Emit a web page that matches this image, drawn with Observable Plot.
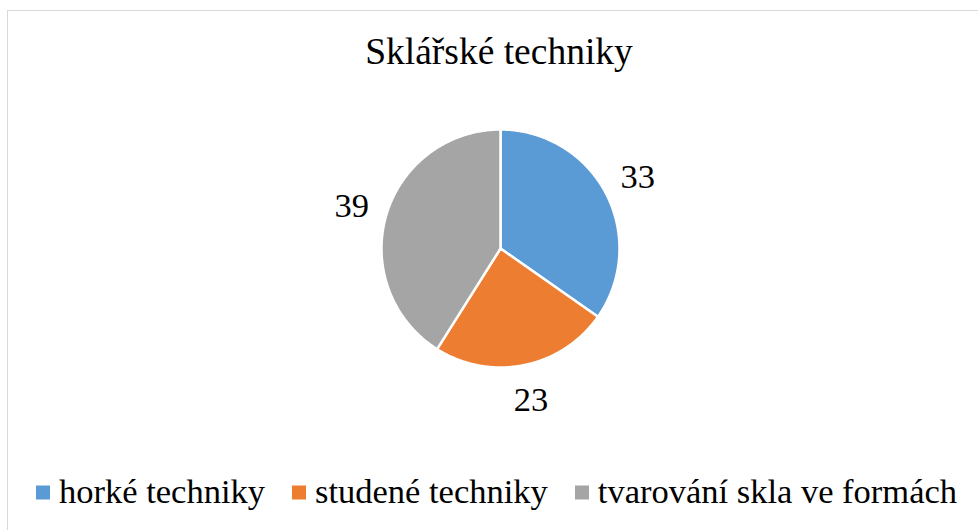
<!DOCTYPE html>
<html>
<head>
<meta charset="utf-8">
<script src="https://cdn.jsdelivr.net/npm/d3@7"></script>
<script src="https://cdn.jsdelivr.net/npm/@observablehq/plot@0.6"></script>
</head>
<body style="margin:0">
<div id="page"></div>
<script>
const titleText = "Sklářské techniky";
const categories = ["horké techniky", "studené techniky", "tvarování skla ve formách"];
const values = [33, 23, 39];
const colors = ["#5b9bd5", "#ed7d31", "#a5a5a5"];

const FAMILY = "Liberation Serif";
const FONT = `"${FAMILY}", monospace`;

const ctx = document.createElement("canvas").getContext("2d");
ctx.font = `30px "${FAMILY}", monospace`;
ctx.measureText(titleText);

function css(el, obj) { Object.assign(el.style, obj); return el; }

document.documentElement.style.overflow = "hidden";
document.body.style.background = "#fff";
const page = css(document.getElementById("page"), {
  position: "relative", width: "978px", height: "530px", overflow: "hidden", color: "#000"
});

const frame = css(document.createElement("div"), {
  position: "absolute", left: "7px", top: "10px", width: "1100px", height: "700px",
  border: "1.5px solid #d9d9d9", boxSizing: "border-box"
});
page.appendChild(frame);

const title = css(document.createElement("div"), {
  position: "absolute", left: "0px", width: "998px", top: "33px", textAlign: "center",
  fontFamily: FONT, fontSize: "37.5px", lineHeight: "37.5px", whiteSpace: "nowrap"
});
title.textContent = titleText;
page.appendChild(title);

const rows = categories.map((c, i) => ({cat: c, value: values[i]}));
const arcs = d3.pie().sort(null).value(d => d.value)(rows);

const pts = [];
for (const a of arcs) {
  const n = Math.max(8, Math.ceil((a.endAngle - a.startAngle) / 0.01));
  pts.push({cat: a.data.cat, x: 0, y: 0});
  for (let k = 0; k <= n; k++) {
    const t = a.startAngle + (a.endAngle - a.startAngle) * k / n;
    pts.push({cat: a.data.cat, x: Math.sin(t), y: Math.cos(t)});
  }
}
const labelR = 1.3;
const labels = arcs.map(a => {
  const m = (a.startAngle + a.endAngle) / 2;
  return {text: String(a.data.value), x: labelR * Math.sin(m), y: labelR * Math.cos(m)};
});

const R = 119, W = 978, H = 340, cx = 500;
const chart = Plot.plot({
  width: W, height: H,
  margin: 0,
  x: {domain: [-cx / R, (W - cx) / R], axis: null},
  y: {domain: [-H / 2 / R, H / 2 / R], axis: null},
  color: {domain: categories, range: colors},
  style: {background: "transparent", color: "#000", fontFamily: FONT},
  marks: [
    Plot.line(pts, {x: "x", y: "y", z: "cat", fill: "cat", stroke: "white", strokeWidth: 2.5, curve: "linear-closed"}),
    Plot.text(labels, {x: "x", y: "y", text: "text", fontSize: 34.5, fontFamily: FONT, fill: "#000"})
  ]
});
const holder = css(document.createElement("div"), {position: "absolute", left: "0px", top: "78px"});
holder.appendChild(chart);
page.appendChild(holder);

const lg = css(document.createElement("div"), {
  position: "absolute", left: "36px", top: "474px", display: "flex", alignItems: "center",
  fontFamily: FONT, fontSize: "34.5px", lineHeight: "34.5px", whiteSpace: "nowrap"
});
categories.forEach((c, i) => {
  const it = css(document.createElement("div"), {display: "flex", alignItems: "center", marginRight: "27px"});
  const sw = css(document.createElement("div"), {
    width: "14px", height: "14px", marginRight: "9px", transform: "translateY(1.5px)", background: colors[i]
  });
  const tx = css(document.createElement("span"), {fontFamily: FONT});
  tx.textContent = c;
  it.appendChild(sw); it.appendChild(tx);
  lg.appendChild(it);
});
page.appendChild(lg);
</script>
</body>
</html>
